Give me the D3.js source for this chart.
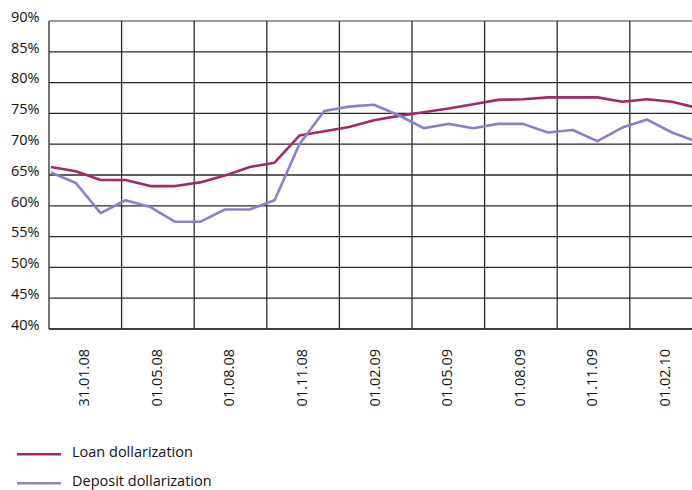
<!DOCTYPE html>
<html><head><meta charset="utf-8">
<script src="https://cdn.jsdelivr.net/npm/d3@7"></script>
<style>
html,body{margin:0;padding:0;background:#fff;overflow:hidden}
text{font-family:"Open Sans","Noto Sans",sans-serif;fill:#111}
</style></head>
<body><svg id="c" width="692" height="490"></svg>
<script>
const months = ["2008-01","2008-02","2008-03","2008-04","2008-05","2008-06","2008-07","2008-08","2008-09","2008-10","2008-11","2008-12",
"2009-01","2009-02","2009-03","2009-04","2009-05","2009-06","2009-07","2009-08","2009-09","2009-10","2009-11","2009-12","2010-01","2010-02","2010-03"];
const loan = [66.3,65.6,64.2,64.2,63.2,63.2,63.8,64.9,66.3,67.0,71.4,72.1,72.8,73.9,74.6,75.2,75.8,76.5,77.2,77.3,77.6,77.6,77.6,76.9,77.3,76.9,75.9];
const deposit = [65.4,63.7,58.8,60.9,59.8,57.4,57.4,59.4,59.4,60.9,70.0,75.4,76.1,76.4,74.7,72.6,73.3,72.6,73.3,73.3,71.9,72.3,70.5,72.7,74.0,71.9,70.4];
const dateLabels = ["31.01.08","01.05.08","01.08.08","01.11.08","01.02.09","01.05.09","01.08.09","01.11.09","01.02.10"];
const yTicks = [40,45,50,55,60,65,70,75,80,85,90];
const seriesNames = ["Loan dollarization","Deposit dollarization"];
const colors = ["#a3286a","#8a80c8"];

(function(){
const svg = d3.select("#c");
const pl = 49, pt = 21, pb = 329;
const y = d3.scaleLinear().domain([40,90]).range([pb, pt]);
const band = d3.scaleBand().domain(dateLabels).range([pl, pl + 9*72.6]).paddingInner(0).paddingOuter(0);
const x = d3.scalePoint().domain(months).range([51, 51 + 26*24.84]);

svg.append("g").selectAll("line").data(yTicks).join("line")
  .attr("x1", pl).attr("x2", 692)
  .attr("y1", d => y(d)).attr("y2", d => y(d))
  .attr("stroke", d => d===90 ? "#777" : (d===40 ? "#000" : "#2a2a2a"))
  .attr("stroke-width", d => d===90 ? 1.6 : 1.3);

const vx = dateLabels.map(d => band(d));
svg.append("g").selectAll("line").data(vx).join("line")
  .attr("x1", d => d).attr("x2", d => d)
  .attr("y1", pt).attr("y2", pb)
  .attr("stroke", "#2a2a2a").attr("stroke-width", 1.3);

svg.append("g").selectAll("text").data(yTicks).join("text")
  .attr("x", 39.5).attr("y", d => y(d) - 3)
  .attr("text-anchor","end").attr("dominant-baseline","middle")
  .attr("font-size", 14.5).text(d => d + "%");

svg.append("g").selectAll("text").data(dateLabels).join("text")
  .attr("transform", d => `translate(${band(d)+band.bandwidth()/2},349) rotate(-90)`)
  .attr("text-anchor","end").attr("dominant-baseline","middle")
  .attr("font-size", 14.5).text(d => d);

const line = d3.line().x((d,i) => x(months[i])).y(d => y(d));
[loan, deposit].forEach((s,k) => {
  svg.append("path").datum(s).attr("d", line)
    .attr("fill","none").attr("stroke", colors[k]).attr("stroke-width", 2.6)
    .attr("stroke-linejoin","round");
});

const lg = svg.append("g");
seriesNames.forEach((n,k) => {
  const ly = 454.3 + k*29;
  lg.append("line").attr("x1",17).attr("x2",61).attr("y1",ly).attr("y2",ly)
    .attr("stroke", colors[k]).attr("stroke-width", 2.6);
  lg.append("text").attr("x",72).attr("y",ly - 1.5).attr("dominant-baseline","middle")
    .attr("font-size",14.5).text(n);
});
})();
</script></body></html>
